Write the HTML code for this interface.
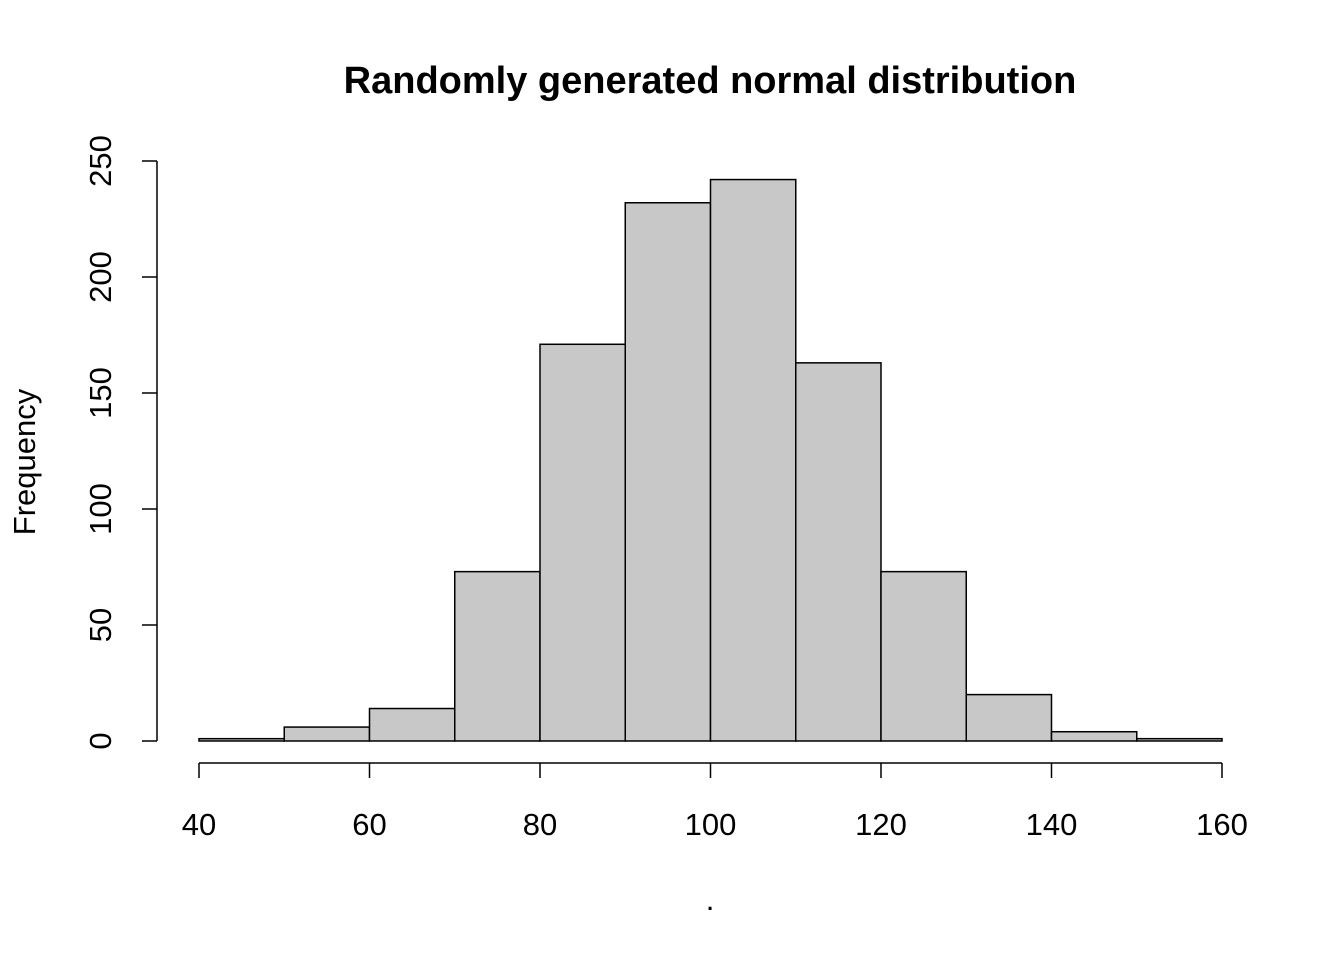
<!DOCTYPE html>
<html><head><meta charset="utf-8"><style>
body{margin:0;background:#fff}
svg text{font-family:"Liberation Sans",Arial,sans-serif;fill:#000}
</style></head><body>
<svg id="chart" width="1344" height="960" xmlns="http://www.w3.org/2000/svg">
<rect width="1344" height="960" fill="#fff"/>
<text x="710" y="93" font-size="38" font-weight="bold" text-anchor="middle">Randomly generated normal distribution</text>
<text transform="translate(35,462) rotate(-90)" font-size="31" text-anchor="middle">Frequency</text>
<text x="710" y="910" font-size="31" text-anchor="middle">.</text>
<g id="bars"></g>
<g id="xaxis"></g>
<g id="yaxis"></g>
</svg>
<script>
const binStarts=[40,50,60,70,80,90,100,110,120,130,140,150];
const binWidth=10;
const counts=[1,6,14,73,171,232,242,163,73,20,4,1];
const xTicks=[40,60,80,100,120,140,160];
const yTicks=[0,50,100,150,200,250];
const NS="http://www.w3.org/2000/svg";
const xs=v=>199+(v-40)*(1222-199)/120;
const ys=v=>741-v*(741-161)/250;
function mk(tag,attrs,parent){const e=document.createElementNS(NS,tag);for(const k in attrs)e.setAttribute(k,attrs[k]);parent.appendChild(e);return e;}
const bars=document.getElementById('bars');
binStarts.forEach((b,i)=>{
  const r=mk('rect',{x:xs(b),y:ys(counts[i]),width:xs(b+binWidth)-xs(b),height:ys(0)-ys(counts[i]),fill:'#c8c8c8',stroke:'#000','stroke-width':1.5},bars);
  
  
});
const xa=document.getElementById('xaxis');
mk('line',{x1:xs(xTicks[0]),x2:xs(xTicks[xTicks.length-1]),y1:763,y2:763,stroke:'#000','stroke-width':1.5},xa);
xTicks.forEach(t=>{
  mk('line',{x1:xs(t),x2:xs(t),y1:763,y2:778,stroke:'#000','stroke-width':1.5},xa);
  const tx=mk('text',{x:xs(t),y:835,'font-size':31,'text-anchor':'middle'},xa);
  tx.textContent=t;
  
  
});
const ya=document.getElementById('yaxis');
mk('line',{x1:157,x2:157,y1:ys(yTicks[0]),y2:ys(yTicks[yTicks.length-1]),stroke:'#000','stroke-width':1.5},ya);
yTicks.forEach(t=>{
  mk('line',{x1:142,x2:157,y1:ys(t),y2:ys(t),stroke:'#000','stroke-width':1.5},ya);
  const tx=mk('text',{transform:'translate(111,'+ys(t)+') rotate(-90)','font-size':31,'text-anchor':'middle'},ya);
  tx.textContent=t;
  
  
});
</script>
</body></html>
